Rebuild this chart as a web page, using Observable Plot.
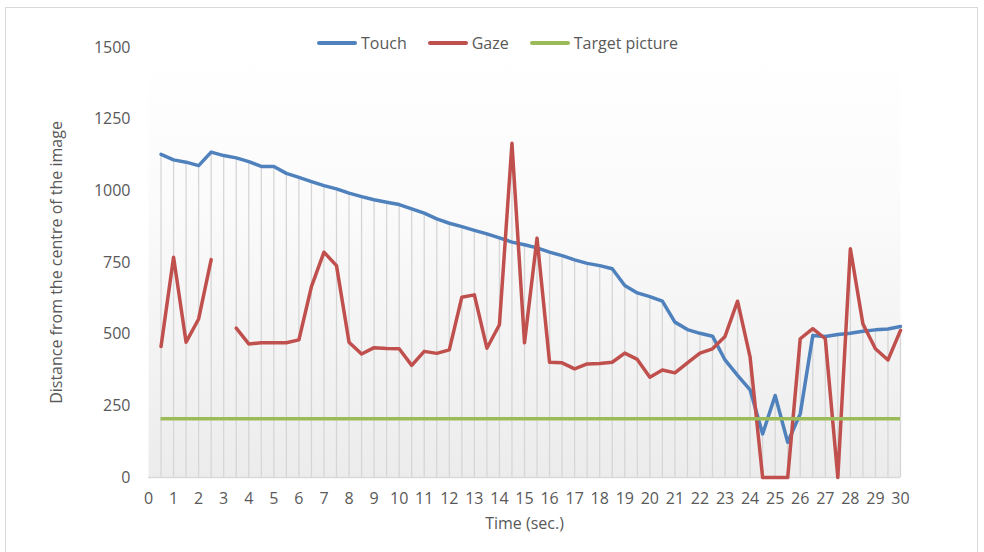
<!DOCTYPE html>
<html>
<head>
<meta charset="utf-8">
<script src="https://cdn.jsdelivr.net/npm/d3@7"></script>
<script src="https://cdn.jsdelivr.net/npm/@observablehq/plot@0.6"></script>
<style>
  html, body { margin: 0; padding: 0; background: #fff; }
  #wrap { position: relative; width: 984px; height: 552px; overflow: hidden; font-family: "Open Sans", sans-serif; }
  #border { position: absolute; left: 5px; top: 7px; right: 6px; bottom: 0px; border: 1px solid #d9d9d9; border-bottom: none; box-sizing: border-box; }
  #legend { position: absolute; left: 317px; top: 32px; display: flex; align-items: center; font-size: 16px; color: #595959; }
  .item { display: flex; align-items: center; margin-right: 21px; }
  .sw { width: 40px; height: 4px; margin-right: 4px; border-radius: 2px; }
  #chart { position: absolute; left: 0; top: 0; }
</style>
</head>
<body>
<div id="wrap">
  <div id="border"></div>
  <div id="chart"></div>
  <div id="legend"></div>
</div>
<script>
// Time (sec.) categories
const times = [0.5,1,1.5,2,2.5,3,3.5,4,4.5,5,5.5,6,6.5,7,7.5,8,8.5,9,9.5,10,
  10.5,11,11.5,12,12.5,13,13.5,14,14.5,15,15.5,16,16.5,17,17.5,18,18.5,19,19.5,20,
  20.5,21,21.5,22,22.5,23,23.5,24,24.5,25,25.5,26,26.5,27,27.5,28,28.5,29,29.5,30];
// Series values
const touch = [1127,1108,1100,1088,1135,1123,1115,1102,1085,1085,
  1061,1047,1032,1018,1007,992,980,969,960,952,
  937,922,902,887,875,862,850,836,821,812,
  801,786,774,759,747,739,728,670,644,631,
  615,542,516,503,493,410,356,306,152,286,
  123,222,495,492,499,503,510,515,518,527];
const gaze = [457,768,472,553,760,null,521,466,470,470,
  470,480,666,786,739,472,431,453,450,449,
  391,440,433,445,629,637,451,533,1166,470,
  835,402,400,379,396,398,402,434,412,350,
  375,365,400,434,449,492,615,420,0,0,
  0,484,519,484,0,798,536,449,410,513];
const targetPicture = 205;
// Tick labels
const xTicks = [0,1,2,3,4,5,6,7,8,9,10,11,12,13,14,15,16,17,18,19,20,21,22,23,24,25,26,27,28,29,30];
const yTicks = [0,250,500,750,1000,1250,1500];
const seriesNames = ["Touch","Gaze","Target picture"];
const seriesColors = ["#4F81BD","#C0504D","#9BBB59"];

const rows = times.map((t, i) => ({t, touch: touch[i], gaze: gaze[i]}));

const chart = Plot.plot({
  width: 984,
  height: 552,
  marginTop: 47,
  marginBottom: 75,
  marginLeft: 148,
  marginRight: 84,
  style: {fontFamily: "'Open Sans', sans-serif", fontSize: "16px", color: "#595959", background: "transparent"},
  x: {domain: [0, 30]},
  y: {domain: [0, 1500]},
  marks: [
    Plot.frame({fill: "url(#plotbg)", stroke: "none"}),
    Plot.ruleX(rows, {x: "t", y1: 0, y2: d => Math.max(d.touch, d.gaze ?? 0), stroke: "#d6d6d6", strokeWidth: 1.3}),
    Plot.ruleY([0], {stroke: "#d9d9d9", strokeWidth: 1.5}),
    Plot.axisY({ticks: yTicks, tickSize: 0, tickPadding: 18, tickFormat: d => String(d), label: "Distance from the centre of the image", labelAnchor: "center", labelOffset: 98, labelArrow: "none"}),
    Plot.axisX({ticks: xTicks, tickSize: 0, tickPadding: 15, tickFormat: d => String(d), label: "Time (sec.)", labelAnchor: "center", labelOffset: 51, labelArrow: "none"}),
    Plot.lineY(rows, {x: "t", y: "touch", stroke: seriesColors[0], strokeWidth: 3.5}),
    Plot.lineY(rows, {x: "t", y: "gaze", stroke: seriesColors[1], strokeWidth: 3.5}),
    Plot.ruleY([targetPicture], {x1: times[0], x2: times[times.length - 1], stroke: seriesColors[2], strokeWidth: 3.5})
  ]
});

// gradient definition for plot area
const ns = "http://www.w3.org/2000/svg";
const defs = document.createElementNS(ns, "defs");
defs.innerHTML = '<linearGradient id="plotbg" x1="0" y1="0" x2="0" y2="1">' +
  '<stop offset="0" stop-color="#ffffff"/>' +
  '<stop offset="0.35" stop-color="#fbfbfb"/>' +
  '<stop offset="1" stop-color="#ececec"/></linearGradient>';
chart.insertBefore(defs, chart.firstChild);
document.getElementById("chart").appendChild(chart);

const legend = document.getElementById("legend");
seriesNames.forEach((name, i) => {
  const item = document.createElement("div");
  item.className = "item";
  const sw = document.createElement("div");
  sw.className = "sw";
  sw.style.background = seriesColors[i];
  const tx = document.createElement("span");
  tx.textContent = name;
  item.appendChild(sw);
  item.appendChild(tx);
  legend.appendChild(item);
});
</script>
</body>
</html>
